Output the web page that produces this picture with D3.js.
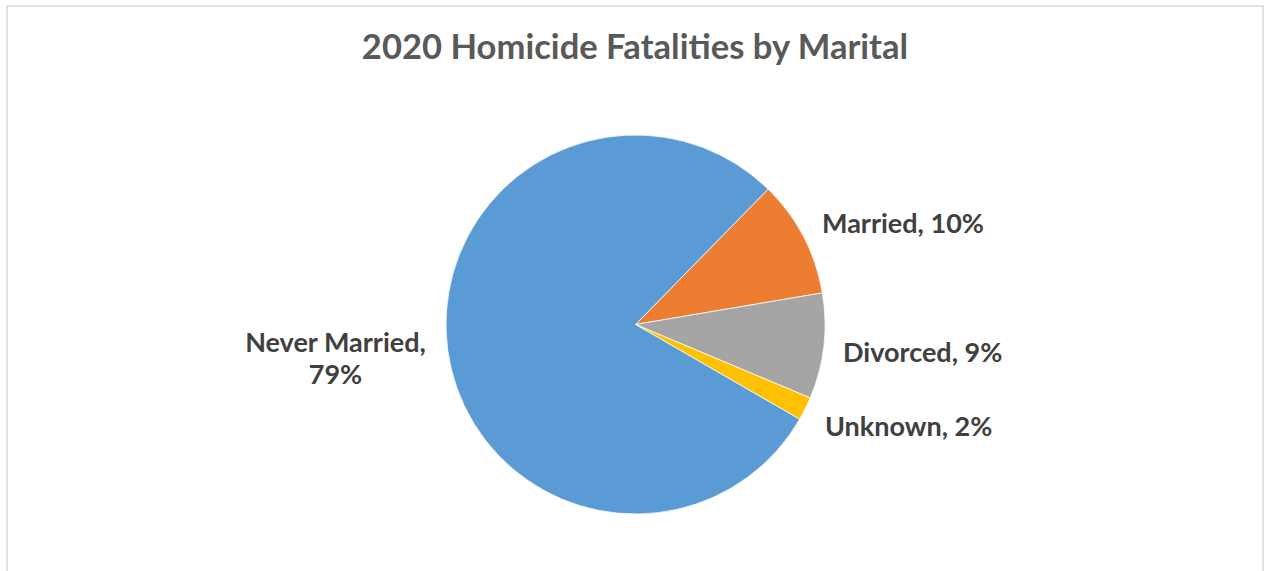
<!DOCTYPE html>
<html>
<head>
<meta charset="utf-8">
<script src="https://cdn.jsdelivr.net/npm/d3@7"></script>
<style>
  html, body { margin: 0; padding: 0; background: #fff; }
  svg { display: block; }
  text { font-family: Lato, "Open Sans", sans-serif; font-weight: bold; }
</style>
</head>
<body>
<svg id="chart" width="1265" height="571"></svg>
<script>
const title = "2020 Homicide Fatalities by Marital";
const categories = ["Married", "Divorced", "Unknown", "Never Married"];
const percentages = [10, 9, 2, 79];
const colors = ["#ED7D31", "#A5A5A5", "#FFC000", "#5B9BD5"];

const svg = d3.select("#chart");

// chart frame
svg.append("rect")
  .attr("x", 7).attr("y", 6)
  .attr("width", 1256).attr("height", 600)
  .attr("fill", "#fff")
  .attr("stroke", "#d9d9d9").attr("stroke-width", 1.5);

svg.append("text")
  .attr("x", 635).attr("y", 59)
  .attr("text-anchor", "middle")
  .attr("fill", "#595959")
  .attr("font-size", 34.6)
  .text(title);

const cx = 635.5, cy = 324.5, R = 189.5;
const startDeg = 44.4;

const pie = d3.pie().sort(null).value(d => d)
  .startAngle(startDeg * Math.PI / 180)
  .endAngle((startDeg + 360) * Math.PI / 180);
const arcs = pie(percentages);
const arc = d3.arc().innerRadius(0).outerRadius(R);

const g = svg.append("g").attr("transform", `translate(${cx},${cy})`);
g.selectAll("path").data(arcs).join("path")
  .attr("d", arc)
  .attr("fill", (d, i) => colors[i])
  .attr("stroke", "#fff").attr("stroke-width", 0.75)
  .attr("stroke-linejoin", "round");

const labelPos = [
  { x: 822, y: 233, anchor: "start" },
  { x: 843, y: 362, anchor: "start" },
  { x: 825, y: 436, anchor: "start" },
  { x: 335.5, y: 352, anchor: "middle" }
];
const labelSize = 27;
arcs.forEach((d, i) => {
  const p = labelPos[i];
  const t = svg.append("text")
    .attr("x", p.x).attr("y", p.y)
    .attr("text-anchor", p.anchor)
    .attr("fill", "#404040")
    .attr("font-size", labelSize);
  if (categories[i] === "Never Married") {
    t.append("tspan").attr("x", p.x).text(categories[i] + ",");
    t.append("tspan").attr("x", p.x).attr("dy", 32).text(percentages[i] + "%");
  } else {
    t.text(categories[i] + ", " + percentages[i] + "%");
  }
});
</script>
</body>
</html>
